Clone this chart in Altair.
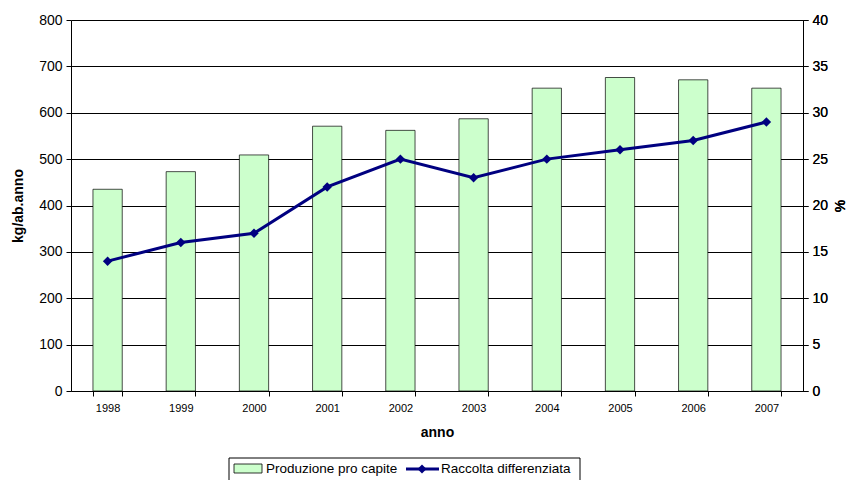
import altair as alt
import pandas as pd

years = ["1998", "1999", "2000", "2001", "2002", "2003", "2004", "2005", "2006", "2007"]
produzione = [435, 473, 509, 571, 562, 587, 653, 676, 671, 653]
raccolta = [14, 16, 17, 22, 25, 23, 25, 26, 27, 29]
legend_labels = ["Produzione pro capite", "Raccolta differenziata"]

df = pd.DataFrame({"anno": years, "produzione": produzione, "raccolta": raccolta})
one = pd.DataFrame({"k": [0]})

FONT = "Liberation Sans"
W, H = 732, 371

xenc = alt.X(
    "anno:N",
    sort=years,
    scale=alt.Scale(paddingInner=0.6, paddingOuter=0.3),
    axis=alt.Axis(
        title="anno", titleFont=FONT, titleFontSize=14, titleFontWeight="bold",
        titleColor="black", titleX=W / 2, titleY=41, titleAlign="center", titleBaseline="middle",
        labelFont=FONT, labelFontSize=11, labelColor="black", labelAngle=0, labelPadding=6,
        tickBand="extent", tickSize=5, tickColor="black", domainColor="black",
        grid=False,
    ),
)

bars = alt.Chart(df).mark_bar(fill="#CCFFCC", stroke="black", strokeWidth=0.7).encode(
    x=xenc,
    y=alt.Y(
        "produzione:Q",
        scale=alt.Scale(domain=[0, 800], nice=False),
        axis=alt.Axis(
            title="kg/ab.anno", titleFont=FONT, titleFontSize=14, titleFontWeight="bold",
            titleColor="black", titleAngle=270, titleX=-53, titleY=H / 2,
            titleAlign="center", titleBaseline="middle",
            labelFont=FONT, labelFontSize=14, labelColor="black", labelPadding=4,
            values=list(range(0, 801, 100)), tickSize=5, tickColor="black",
            domainColor="black", grid=True, gridColor="black", gridWidth=1,
        ),
    ),
)

yright = alt.Y(
    "raccolta:Q",
    scale=alt.Scale(domain=[0, 40], nice=False),
    axis=alt.Axis(
        orient="right", title="%", titleFont=FONT, titleFontSize=14, titleFontWeight="bold",
        titleColor="black", titleAngle=270, titleX=37, titleY=H / 2,
        titleAlign="center", titleBaseline="middle",
        labelFont=FONT, labelFontSize=14, labelColor="black", labelPadding=4,
        values=list(range(0, 41, 5)), tickSize=5, tickColor="black",
        domainColor="black", grid=False,
    ),
)

line = alt.Chart(df).mark_line(color="#000080", strokeWidth=3).encode(x=xenc, y=yright)
points = alt.Chart(df).mark_point(
    shape="diamond", filled=True, color="#000080", size=90, opacity=1
).encode(x=xenc, y=yright)

# Legend, drawn by hand
box = alt.Chart(one).mark_rect(fill="white", stroke="black", strokeWidth=1).encode(
    x=alt.value(158), x2=alt.value(509), y=alt.value(438), y2=alt.value(466)
)
sw = alt.Chart(one).mark_rect(fill="#CCFFCC", stroke="black", strokeWidth=0.8).encode(
    x=alt.value(163), x2=alt.value(191), y=alt.value(444), y2=alt.value(453)
)
t1 = alt.Chart(pd.DataFrame({"t": [legend_labels[0]]})).mark_text(
    font=FONT, fontSize=13.5, align="left", baseline="middle", color="black"
).encode(text="t:N", x=alt.value(195), y=alt.value(449))
lr = alt.Chart(one).mark_rule(color="#000080", strokeWidth=3).encode(
    x=alt.value(335), x2=alt.value(368), y=alt.value(449)
)
lp = alt.Chart(one).mark_point(shape="diamond", filled=True, color="#000080", size=80, opacity=1).encode(
    x=alt.value(351), y=alt.value(449)
)
t2 = alt.Chart(pd.DataFrame({"t": [legend_labels[1]]})).mark_text(
    font=FONT, fontSize=13.5, align="left", baseline="middle", color="black"
).encode(text="t:N", x=alt.value(370), y=alt.value(449))

chart = alt.layer(bars, line, points, box, sw, t1, lr, lp, t2).resolve_scale(
    y="independent"
).properties(
    width=W, height=H,
    autosize=alt.AutoSizeParams(type="none"),
    padding={"left": 63, "top": 12, "right": 839 - 63 - W, "bottom": 472 - 12 - H},
).configure_view(stroke=None)

chart.save("out.html", embed_options={"renderer": "svg", "actions": False})
